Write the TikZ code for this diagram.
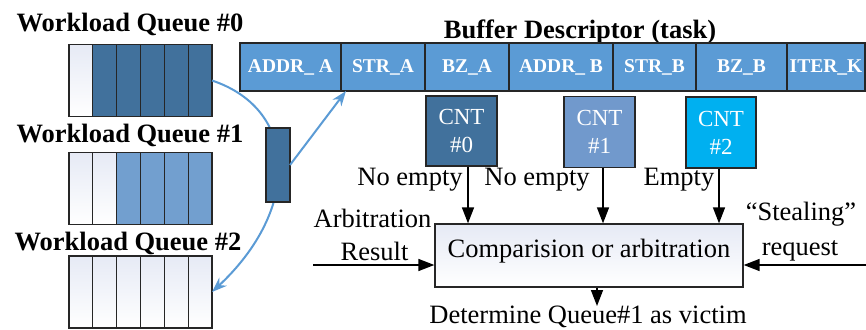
\documentclass[tikz,border=0pt]{standalone}
\usepackage{fontspec}
\setmainfont{Liberation Serif}
\usetikzlibrary{arrows.meta}
\definecolor{dkblue}{HTML}{41719C}
\definecolor{mdblue}{HTML}{729FCF}
\definecolor{cntb}{HTML}{7199CC}
\definecolor{descb}{HTML}{5B9BD5}
\definecolor{cyanb}{HTML}{00B0F0}
\definecolor{curvec}{HTML}{5B9BD5}
\definecolor{bordc}{HTML}{262626}
\definecolor{wtop}{HTML}{E6EAF5}
\tikzset{
  cell/.style={draw=bordc, line width=1.3pt, minimum width=23.83pt, minimum height=72pt, inner sep=0pt, outer sep=0pt},
  wcell/.style={cell, top color=wtop, bottom color=white},
  dcell/.style={cell, fill=dkblue},
  mcell/.style={cell, fill=mdblue},
  qframe/.style={draw=bordc, line width=1.3pt, minimum width=143pt, minimum height=72pt, inner sep=0pt, outer sep=0pt},
  desc/.style={draw=bordc, fill=descb, line width=1.3pt, minimum height=48pt, inner sep=0pt, outer sep=0pt, text=white, font=\fontsize{19.5}{20}\selectfont\bfseries},
  cntbox/.style={draw=bordc, line width=1.3pt, text=white, font=\fontsize{23}{28}\selectfont, align=center, inner sep=0pt, minimum width=71pt, minimum height=71pt},
  lbl/.style={font=\fontsize{26.5}{30}\selectfont, inner sep=0pt},
  ttl/.style={font=\fontsize{26.5}{30}\selectfont\bfseries, inner sep=0pt},
  arr/.style={draw=black, line width=1.5pt, -{Triangle[length=16pt,width=12pt]}},
  barr/.style={draw=curvec, line width=2pt, -{Stealth[length=15pt,width=11pt]}}
}
\begin{document}
\begin{tikzpicture}[x=1pt,y=-1pt]
\useasboundingbox (0,0) rectangle (866,329);
% titles
\node[ttl, anchor=base] (t0) at (130,31.5) {Workload Queue \#0};
\node[ttl, anchor=base] (t1) at (130,142) {Workload Queue \#1};
\node[ttl, anchor=base] (t2) at (128,250) {Workload Queue \#2};
\node[ttl, anchor=base] (tb) at (580,38) {Buffer Descriptor (task)};
% queue 0
\foreach \i/\s in {1/wcell,2/dcell,3/dcell,4/dcell,5/dcell,6/dcell}
  \node[\s] (q0c\i) at ({69+23.83*(\i-0.5)},80.5) {};
\node[qframe] (q0) at (140.5,80.5) {};
% queue 1
\foreach \i/\s in {1/wcell,2/wcell,3/mcell,4/mcell,5/mcell,6/mcell}
  \node[\s] (q1c\i) at ({69+23.83*(\i-0.5)},188.5) {};
\node[qframe] (q1) at (140.5,188.5) {};
% queue 2
\foreach \i in {1,...,6}
  \node[wcell] (q2c\i) at ({69+23.83*(\i-0.5)},292) {};
\node[qframe] (q2) at (140.5,292) {};
% descriptor
\node[desc, minimum width=101pt] (d1) at (290.5,67) {ADDR\_ A};
\node[desc, minimum width=84pt] (d2) at (383,67) {STR\_A};
\node[desc, minimum width=84pt] (d3) at (467,67) {BZ\_A};
\node[desc, minimum width=104pt] (d4) at (561,67) {ADDR\_ B};
\node[desc, minimum width=83pt] (d5) at (654.5,67) {STR\_B};
\node[desc, minimum width=91pt] (d6) at (741.5,67) {BZ\_B};
\node[desc, minimum width=78pt] (d7) at (826,67) {ITER\_K};
% curve from queue 0 to queue 2
\draw[barr] (q0.east) .. controls (300,110) and (300,210) .. (q2.east);
% middle task block
\node[cell, fill=dkblue, minimum width=24pt, minimum height=74pt] (mid) at (278,165) {};
\draw[barr] (mid.east) -- ([xshift=5pt]d2.south west);
% counters
\node[cntbox, fill=dkblue, minimum height=70pt] (cnt0) at (461.5,131) {CNT\\\#0};
\node[cntbox, fill=cntb] (cnt1) at (599.5,132) {CNT\\\#1};
\node[cntbox, fill=cyanb, minimum width=70pt] (cnt2) at (721,132.5) {CNT\\\#2};
% comparison box
\node[draw=bordc, line width=1.3pt, minimum width=308pt, minimum height=63pt, inner sep=0pt,
      top color=wtop, bottom color=white] (comp) at (589,255.5) {};
\node[lbl, anchor=base] (compt) at (589,257) {Comparision or arbitration};
% arrows from counters
\draw[arr] ([xshift=6.5pt]cnt0.south) -- ([xshift=6.5pt]cnt0.south |- comp.north);
\draw[arr] ([xshift=3.5pt]cnt1.south) -- ([xshift=3.5pt]cnt1.south |- comp.north);
\draw[arr] ([xshift=-2pt]cnt2.south) -- ([xshift=-2pt]cnt2.south |- comp.north);
\node[lbl, anchor=base] (ne0) at (410,185) {No empty};
\node[lbl, anchor=base] (ne1) at (537,185) {No empty};
\node[lbl, anchor=base] (em2) at (679,185) {Empty};
% side inputs
\coordinate (lin) at (313,265);
\coordinate (rin) at (866,265);
\draw[arr] (lin) -- (lin -| comp.west);
\draw[arr] (rin) -- (rin -| comp.east);
\node[lbl, anchor=base] (arb) at (372.5,227) {Arbitration};
\node[lbl, anchor=base] (res) at (374.5,260) {Result};
\node[lbl, anchor=base] (stl) at (801,220) {“Stealing”};
\node[lbl, anchor=base] (req) at (800,255) {request};
% output
\coordinate (vic) at (597,306);
\draw[arr] (comp.south -| vic) -- (vic);
\node[lbl, anchor=base] (vict) at (588,323) {Determine Queue\#1 as victim};
\end{tikzpicture}
\end{document}
